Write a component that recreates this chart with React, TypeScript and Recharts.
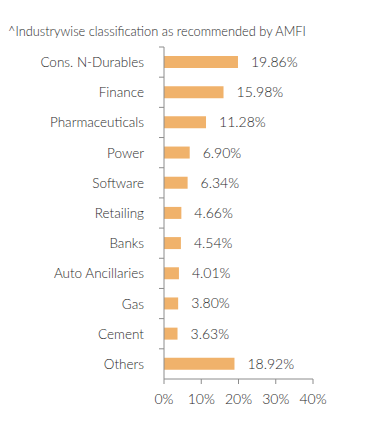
import { BarChart, Bar, XAxis, YAxis, LabelList } from "recharts";

const sectors = [
  "Cons. N-Durables", "Finance", "Pharmaceuticals", "Power", "Software", "Retailing",
  "Banks", "Auto Ancillaries", "Gas", "Cement", "Others",
];
const weights = [19.86, 15.98, 11.28, 6.9, 6.34, 4.66, 4.54, 4.01, 3.8, 3.63, 18.92];
const xTicks = [0, 10, 20, 30, 40];

const data = sectors.map((name, i) => ({ name, value: weights[i] }));

const W = 391;
const H = 432;
const M = { top: 47, right: 78, bottom: 23, left: 0 };
const Y_W = 164;
const X_H = 30;
const BAND = (H - M.top - M.bottom - X_H) / sectors.length;
const FONT = "Lato, sans-serif";
const TXT = "#2b2b2b";
const AX = "#8c8c8c";

// category label centred in band, tick mark at the band's top edge
function SectorTick(props: any) {
  const { x, y, payload } = props;
  const ax = Y_W;
  const top = y - BAND / 2;
  return (
    <g>
      <line x1={ax - 5} x2={ax} y1={top} y2={top} stroke={AX} strokeWidth={1} />
      <text x={x} y={y} dy={5} textAnchor="end" fontSize={13.5} fontFamily={FONT} fontWeight={300} fill={TXT}>
        {payload.value}
      </text>
    </g>
  );
}

export default function App() {
  return (
    <div style={{ position: "absolute", left: 0, top: 0, width: W, height: H, background: "#fff" }}>
      <div style={{ position: "absolute", left: 8, top: 24, fontSize: 12.8, lineHeight: "15px", fontFamily: FONT, fontWeight: 300, color: TXT }}>
        ^Industrywise classification as recommended by AMFI
      </div>
      <BarChart width={W} height={H} data={data} layout="vertical" margin={M} barSize={12}>
        <XAxis
          type="number"
          domain={[0, 40]}
          ticks={xTicks}
          tickFormatter={(v) => `${v}%`}
          axisLine={{ stroke: AX }}
          tickLine={{ stroke: AX }}
          tickSize={5}
          tickMargin={10}
          height={X_H}
          tick={{ fontSize: 14, fontFamily: FONT, fontWeight: 300, fill: TXT }}
          interval={0}
        />
        <YAxis
          type="category"
          dataKey="name"
          width={Y_W}
          axisLine={{ stroke: AX }}
          tickLine={false}
          tickMargin={14}
          tick={<SectorTick />}
          interval={0}
        />
        <Bar dataKey="value" fill="#f0b26b" isAnimationActive={false}>
          <LabelList
            dataKey="value"
            position="right"
            offset={13}
            formatter={(v: any) => `${Number(v).toFixed(2)}%`}
            style={{ fontSize: 14, fontFamily: FONT, fontWeight: 300, fill: TXT }}
          />
        </Bar>
      </BarChart>
    </div>
  );
}
